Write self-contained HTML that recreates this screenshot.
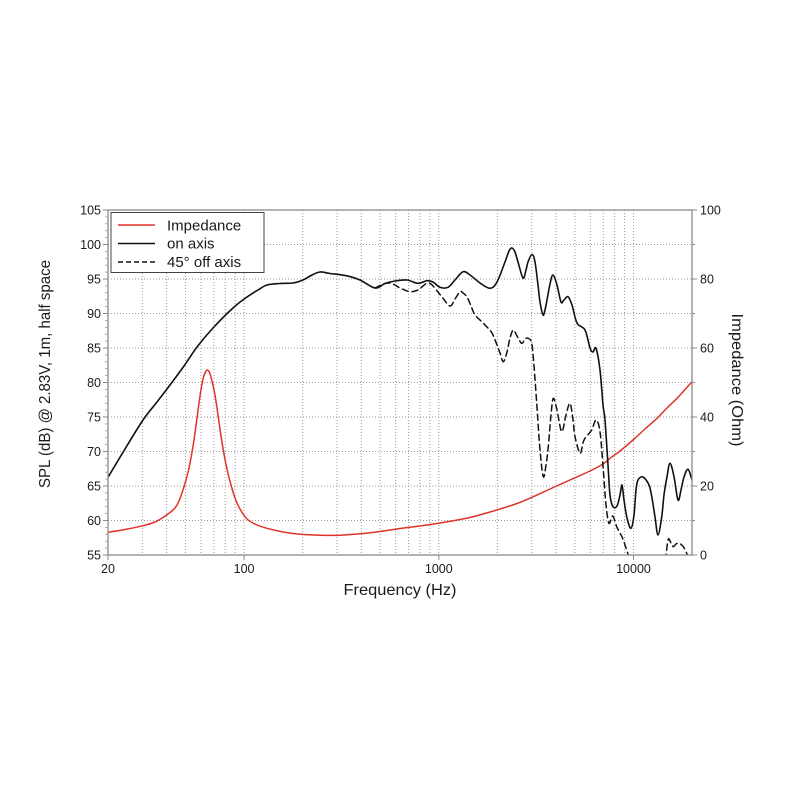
<!DOCTYPE html>
<html>
<head>
<meta charset="utf-8">
<style>
  html, body { margin: 0; padding: 0; background: #ffffff; }
  svg { display: block; }
  text { font-family: "Liberation Sans", "DejaVu Sans", sans-serif; fill: #1a1a1a; }
</style>
</head>
<body>
<svg id="chart" width="800" height="800" viewBox="0 0 800 800" xmlns="http://www.w3.org/2000/svg">
  <defs>
    <clipPath id="plot">
      <rect x="108" y="210" width="584" height="345"/>
    </clipPath>
  </defs>
  <rect x="0" y="0" width="800" height="800" fill="#ffffff"/>

  <!-- grid: horizontal -->
  <g stroke="#9a9a9a" stroke-width="1" stroke-dasharray="1,2" fill="none">
    <line x1="108" y1="244.5" x2="692" y2="244.5"/>
    <line x1="108" y1="279" x2="692" y2="279"/>
    <line x1="108" y1="313.5" x2="692" y2="313.5"/>
    <line x1="108" y1="348" x2="692" y2="348"/>
    <line x1="108" y1="382.5" x2="692" y2="382.5"/>
    <line x1="108" y1="417" x2="692" y2="417"/>
    <line x1="108" y1="451.5" x2="692" y2="451.5"/>
    <line x1="108" y1="486" x2="692" y2="486"/>
    <line x1="108" y1="520.5" x2="692" y2="520.5"/>
  </g>
  <!-- grid: vertical -->
  <g stroke="#9a9a9a" stroke-width="1" stroke-dasharray="1,2" fill="none">
    <line x1="142.3" y1="210" x2="142.3" y2="555"/>
    <line x1="166.6" y1="210" x2="166.6" y2="555"/>
    <line x1="185.5" y1="210" x2="185.5" y2="555"/>
    <line x1="200.9" y1="210" x2="200.9" y2="555"/>
    <line x1="213.9" y1="210" x2="213.9" y2="555"/>
    <line x1="225.2" y1="210" x2="225.2" y2="555"/>
    <line x1="235.2" y1="210" x2="235.2" y2="555"/>
    <line x1="244.1" y1="210" x2="244.1" y2="555"/>
    <line x1="302.7" y1="210" x2="302.7" y2="555"/>
    <line x1="337.0" y1="210" x2="337.0" y2="555"/>
    <line x1="361.3" y1="210" x2="361.3" y2="555"/>
    <line x1="380.2" y1="210" x2="380.2" y2="555"/>
    <line x1="395.6" y1="210" x2="395.6" y2="555"/>
    <line x1="408.6" y1="210" x2="408.6" y2="555"/>
    <line x1="419.9" y1="210" x2="419.9" y2="555"/>
    <line x1="429.9" y1="210" x2="429.9" y2="555"/>
    <line x1="438.8" y1="210" x2="438.8" y2="555"/>
    <line x1="497.4" y1="210" x2="497.4" y2="555"/>
    <line x1="531.7" y1="210" x2="531.7" y2="555"/>
    <line x1="556.0" y1="210" x2="556.0" y2="555"/>
    <line x1="574.9" y1="210" x2="574.9" y2="555"/>
    <line x1="590.3" y1="210" x2="590.3" y2="555"/>
    <line x1="603.3" y1="210" x2="603.3" y2="555"/>
    <line x1="614.6" y1="210" x2="614.6" y2="555"/>
    <line x1="624.6" y1="210" x2="624.6" y2="555"/>
    <line x1="633.5" y1="210" x2="633.5" y2="555"/>
  </g>

  <g clip-path="url(#plot)" fill="none" stroke-linejoin="round" stroke-linecap="round">
    <!-- Impedance -->
    <polyline class="smooth" stroke="#e03428" stroke-width="1.5" fill="none" points="
      108,532.3 125,529.5 143,525.7 155,522 163,517.5 170,512.5 175,508 179,501 183,490
      186,480 189,468 191.5,455 194,440 197,418 200,396 203,379 205.5,372 207.3,370
      209.5,372.5 212,381 215,395 218,415 221,436 224,454 227,469 231,485 235,498 240,509
      247,519 256,524.5 267,528.3 283,532 300,534.3 320,535.2 340,535.2 360,533.8 380,531.5
      400,528.5 420,526 440,523 460,519.5 470,517.5 490,512 500,509 517,503.5 533.3,496.7
      550,489 570,480 590,471 603,464 610,458.3 620,451 633,440 645,429 657,418.3 667,408
      677,398.3 685,389.5 692,381.7"/>
    <!-- 45 deg off axis -->
    <polyline class="smooth" stroke="#111" stroke-width="1.5" stroke-dasharray="6,4" fill="none" points="
      375,288 385,283.5 392,283.5 400,288 410,291.7 418,290 423,286 427,283.3 431,284
      435,288.3 442,297 450,306 455,299 460,291.7 463,293 467,297 471,306 475,315 481,321
      487,327 492,333 497,345 500,353 503.3,361.7 507,352 510,338 513.3,330 517,336
      521.7,343.3 525,339 528.3,338.3 531.7,343.3 534,366 536.7,403 540,450 543.3,476.7
      546,465 548.3,446.7 551,415 553.3,398.3 557,410 561.7,431.7 566,415 570,403.3
      573,420 575,436.7 580,453.3 583,443 585,438.3 591.7,430 596,420 600,431.7
      603.3,470 606,505 609,523.3 612.7,516 616.7,526.7 620,533 623.3,540 628.3,555 630,560"/>
    <polyline class="smooth" stroke="#111" stroke-width="1.5" stroke-dasharray="6,4" fill="none" points="
      665,560 666,555 668.3,539.3 671,543 673.3,546.7 676,544 679.3,543.3 683.3,546.7
      686.7,553.3 688,558"/>
    <!-- on axis -->
    <polyline class="smooth" stroke="#111" stroke-width="1.6" fill="none" points="
      107,479 125,449 143,420 157,402 170,385 184,366 197,347 213,328 233,308 247,297
      258,290 267,285 280,283.5 293,283 303,280 312,275 320,272 330,273.5 346,275.7
      360,280 375,288 385,283.5 395,281 407,280 418,283.3 427,280.7 433,282 440,287.3
      448,287.3 455,280 463,271.7 470,275 480,283 490,288.3 497,282 505,262 509,251
      512,248 515,252 518,262 523,278 526,270 528,262 532,254.5 535,262 538,285 540,302
      543,315 545,310 547,300 550,284 553,275 557,285 561,302 564,300 568,296.7 572,305
      577,323 585,330 590,348 593,352 596,348.3 600,370 603,405 605,420 608,465 610,495
      613,506.7 617,506 620,495 622,485 624,500 627,518 631,528.3 634,515 636,490
      638,480 643,477 649,485 652,498 655,517 658,535 661.7,517 664,495 667,476.7
      670,463.3 674,476.7 678,500 681,490 684,477 688,469.3 692,480"/>
  </g>

  <!-- frame -->
  <rect x="108" y="210" width="584" height="345" fill="none" stroke="#8a8a8a" stroke-width="1.3"/>

  <!-- left ticks -->
  <g stroke="#8a8a8a" stroke-width="1">
    <line x1="103" y1="210" x2="108" y2="210"/>
    <line x1="103" y1="244.5" x2="108" y2="244.5"/>
    <line x1="103" y1="279" x2="108" y2="279"/>
    <line x1="103" y1="313.5" x2="108" y2="313.5"/>
    <line x1="103" y1="348" x2="108" y2="348"/>
    <line x1="103" y1="382.5" x2="108" y2="382.5"/>
    <line x1="103" y1="417" x2="108" y2="417"/>
    <line x1="103" y1="451.5" x2="108" y2="451.5"/>
    <line x1="103" y1="486" x2="108" y2="486"/>
    <line x1="103" y1="520.5" x2="108" y2="520.5"/>
    <line x1="103" y1="555" x2="108" y2="555"/>
  </g>
  <g stroke="#9a9a9a" stroke-width="0.8">
    <line x1="105" y1="216.9" x2="108" y2="216.9"/><line x1="105" y1="223.8" x2="108" y2="223.8"/><line x1="105" y1="230.7" x2="108" y2="230.7"/><line x1="105" y1="237.6" x2="108" y2="237.6"/>
    <line x1="105" y1="251.4" x2="108" y2="251.4"/><line x1="105" y1="258.3" x2="108" y2="258.3"/><line x1="105" y1="265.2" x2="108" y2="265.2"/><line x1="105" y1="272.1" x2="108" y2="272.1"/>
    <line x1="105" y1="285.9" x2="108" y2="285.9"/><line x1="105" y1="292.8" x2="108" y2="292.8"/><line x1="105" y1="299.7" x2="108" y2="299.7"/><line x1="105" y1="306.6" x2="108" y2="306.6"/>
    <line x1="105" y1="320.4" x2="108" y2="320.4"/><line x1="105" y1="327.3" x2="108" y2="327.3"/><line x1="105" y1="334.2" x2="108" y2="334.2"/><line x1="105" y1="341.1" x2="108" y2="341.1"/>
    <line x1="105" y1="354.9" x2="108" y2="354.9"/><line x1="105" y1="361.8" x2="108" y2="361.8"/><line x1="105" y1="368.7" x2="108" y2="368.7"/><line x1="105" y1="375.6" x2="108" y2="375.6"/>
    <line x1="105" y1="389.4" x2="108" y2="389.4"/><line x1="105" y1="396.3" x2="108" y2="396.3"/><line x1="105" y1="403.2" x2="108" y2="403.2"/><line x1="105" y1="410.1" x2="108" y2="410.1"/>
    <line x1="105" y1="423.9" x2="108" y2="423.9"/><line x1="105" y1="430.8" x2="108" y2="430.8"/><line x1="105" y1="437.7" x2="108" y2="437.7"/><line x1="105" y1="444.6" x2="108" y2="444.6"/>
    <line x1="105" y1="458.4" x2="108" y2="458.4"/><line x1="105" y1="465.3" x2="108" y2="465.3"/><line x1="105" y1="472.2" x2="108" y2="472.2"/><line x1="105" y1="479.1" x2="108" y2="479.1"/>
    <line x1="105" y1="492.9" x2="108" y2="492.9"/><line x1="105" y1="499.8" x2="108" y2="499.8"/><line x1="105" y1="506.7" x2="108" y2="506.7"/><line x1="105" y1="513.6" x2="108" y2="513.6"/>
    <line x1="105" y1="527.4" x2="108" y2="527.4"/><line x1="105" y1="534.3" x2="108" y2="534.3"/><line x1="105" y1="541.2" x2="108" y2="541.2"/><line x1="105" y1="548.1" x2="108" y2="548.1"/>
  </g>
  <!-- right ticks -->
  <g stroke="#8a8a8a" stroke-width="1">
    <line x1="692" y1="210" x2="697" y2="210"/>
    <line x1="692" y1="279" x2="697" y2="279"/>
    <line x1="692" y1="348" x2="697" y2="348"/>
    <line x1="692" y1="417" x2="697" y2="417"/>
    <line x1="692" y1="486" x2="697" y2="486"/>
    <line x1="692" y1="555" x2="697" y2="555"/>
    <line x1="692" y1="244.5" x2="695" y2="244.5"/>
    <line x1="692" y1="313.5" x2="695" y2="313.5"/>
    <line x1="692" y1="382.5" x2="695" y2="382.5"/>
    <line x1="692" y1="451.5" x2="695" y2="451.5"/>
    <line x1="692" y1="520.5" x2="695" y2="520.5"/>
  </g>
  <!-- bottom ticks -->
  <g stroke="#8a8a8a" stroke-width="1">
    <line x1="108" y1="555" x2="108" y2="560"/>
    <line x1="244.1" y1="555" x2="244.1" y2="560"/>
    <line x1="438.8" y1="555" x2="438.8" y2="560"/>
    <line x1="633.5" y1="555" x2="633.5" y2="560"/>
  </g>

  <!-- left tick labels -->
  <g font-size="12.5" text-anchor="end">
    <text x="101" y="214.5">105</text>
    <text x="101" y="249">100</text>
    <text x="101" y="283.5">95</text>
    <text x="101" y="318">90</text>
    <text x="101" y="352.5">85</text>
    <text x="101" y="387">80</text>
    <text x="101" y="421.5">75</text>
    <text x="101" y="456">70</text>
    <text x="101" y="490.5">65</text>
    <text x="101" y="525">60</text>
    <text x="101" y="559.5">55</text>
  </g>
  <!-- right tick labels -->
  <g font-size="12.5" text-anchor="start">
    <text x="700" y="214.5">100</text>
    <text x="700" y="283.5">80</text>
    <text x="700" y="352.5">60</text>
    <text x="700" y="421.5">40</text>
    <text x="700" y="490.5">20</text>
    <text x="700" y="559.5">0</text>
  </g>
  <!-- bottom tick labels -->
  <g font-size="12.5" text-anchor="middle">
    <text x="108" y="573">20</text>
    <text x="244.1" y="573">100</text>
    <text x="438.8" y="573">1000</text>
    <text x="633.5" y="573">10000</text>
  </g>

  <!-- axis titles -->
  <text x="400" y="595" font-size="16" text-anchor="middle" textLength="113" lengthAdjust="spacingAndGlyphs">Frequency (Hz)</text>
  <text transform="translate(50,374) rotate(-90)" font-size="16" text-anchor="middle" textLength="228" lengthAdjust="spacingAndGlyphs">SPL (dB) @ 2.83V, 1m, half space</text>
  <text transform="translate(732,380) rotate(90)" font-size="16" text-anchor="middle" textLength="133" lengthAdjust="spacingAndGlyphs">Impedance (Ohm)</text>

  <!-- legend -->
  <rect x="111" y="212.5" width="153" height="60" fill="#ffffff" stroke="#444" stroke-width="1"/>
  <line x1="118" y1="225" x2="155" y2="225" stroke="#e03428" stroke-width="1.5"/>
  <line x1="118" y1="243.5" x2="155" y2="243.5" stroke="#111" stroke-width="1.6"/>
  <line x1="118" y1="262" x2="155" y2="262" stroke="#111" stroke-width="1.5" stroke-dasharray="5,3"/>
  <g font-size="15">
    <text x="167" y="230.5">Impedance</text>
    <text x="167" y="248.5">on axis</text>
    <text x="167" y="266.8">45° off axis</text>
  </g>
</svg>
<script>
(function(){
  var NS = "http://www.w3.org/2000/svg";
  var pls = document.querySelectorAll("polyline.smooth");
  for (var k = 0; k < pls.length; k++) {
    var pl = pls[k];
    var nums = pl.getAttribute("points").trim().split(/[\s,]+/).map(Number);
    var p = [];
    for (var i = 0; i + 1 < nums.length; i += 2) p.push([nums[i], nums[i+1]]);
    if (p.length < 2) continue;
    var d = "M" + p[0][0] + "," + p[0][1];
    for (var j = 0; j < p.length - 1; j++) {
      var p0 = p[j-1] || p[j], p1 = p[j], p2 = p[j+1], p3 = p[j+2] || p[j+1];
      var c1x = p1[0] + (p2[0] - p0[0]) / 6, c1y = p1[1] + (p2[1] - p0[1]) / 6;
      var c2x = p2[0] - (p3[0] - p1[0]) / 6, c2y = p2[1] - (p3[1] - p1[1]) / 6;
      d += " C" + c1x.toFixed(2) + "," + c1y.toFixed(2) + " " + c2x.toFixed(2) + "," + c2y.toFixed(2) + " " + p2[0] + "," + p2[1];
    }
    var path = document.createElementNS(NS, "path");
    var attrs = pl.attributes;
    for (var a = 0; a < attrs.length; a++) {
      var n = attrs[a].name;
      if (n === "points" || n === "class") continue;
      path.setAttribute(n, attrs[a].value);
    }
    path.setAttribute("d", d);
    pl.parentNode.replaceChild(path, pl);
  }
})();
</script>
</body>
</html>
